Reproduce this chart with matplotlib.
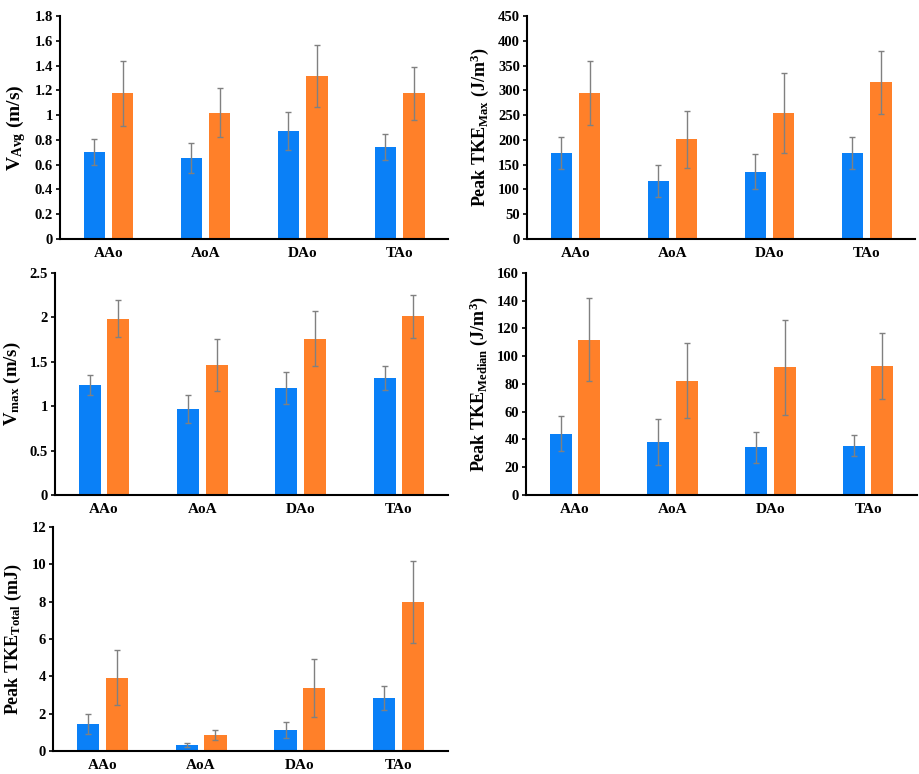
import matplotlib
matplotlib.use('Agg')
import matplotlib.pyplot as plt
import numpy as np

plt.rcParams['font.family'] = 'Liberation Serif'
plt.rcParams['font.weight'] = 'bold'
plt.rcParams['mathtext.fontset'] = 'custom'
plt.rcParams['mathtext.rm'] = 'Liberation Serif:bold'
plt.rcParams['mathtext.bf'] = 'Liberation Serif:bold'
plt.rcParams['mathtext.it'] = 'Liberation Serif:bold:italic'

categories = ['AAo', 'AoA', 'DAo', 'TAo']

# V_Avg (m/s)
vavg_blue = [0.70, 0.655, 0.87, 0.74]
vavg_blue_err = [0.105, 0.12, 0.155, 0.105]
vavg_orange = [1.175, 1.02, 1.315, 1.175]
vavg_orange_err = [0.26, 0.20, 0.25, 0.215]

# Peak TKE_Max (J/m3)
tkemax_blue = [173, 117, 136, 173]
tkemax_blue_err = [32, 31.5, 35, 32]
tkemax_orange = [295, 201, 254, 316]
tkemax_orange_err = [65, 57, 81, 64]

# V_max (m/s)
vmax_blue = [1.24, 0.965, 1.205, 1.32]
vmax_blue_err = [0.11, 0.16, 0.185, 0.135]
vmax_orange = [1.985, 1.465, 1.76, 2.01]
vmax_orange_err = [0.21, 0.29, 0.31, 0.245]

# Peak TKE_Median (J/m3)
tkemed_blue = [44, 38.3, 34.4, 35.6]
tkemed_blue_err = [12.6, 16.6, 11, 7.7]
tkemed_orange = [111.9, 82.3, 91.9, 92.9]
tkemed_orange_err = [30, 27, 34.3, 23.7]

# Peak TKE_Total (mJ)
tketot_blue = [1.45, 0.32, 1.14, 2.84]
tketot_blue_err = [0.52, 0.12, 0.44, 0.66]
tketot_orange = [3.93, 0.86, 3.375, 7.96]
tketot_orange_err = [1.47, 0.27, 1.55, 2.2]

BLUE = '#0a80f7'
ORANGE = '#ff8029'
ERR = '#808080'


def draw_panel(ax, blue, blue_err, orange, orange_err, ymax, ystep, ylabel, fmt, lsize):
    x = np.arange(len(categories))
    w = 0.225
    off = 0.145
    ekw = dict(ecolor=ERR, elinewidth=1.0, capsize=2.5, capthick=1.0)
    ax.bar(x - off, blue, w, color=BLUE, yerr=blue_err, error_kw=ekw, zorder=2)
    ax.bar(x + off, orange, w, color=ORANGE, yerr=orange_err, error_kw=ekw, zorder=2)
    ax.set_xlim(-0.5, len(categories) - 0.5)
    ax.set_ylim(0, ymax)
    ticks = np.arange(0, ymax + ystep / 2, ystep)
    ax.set_yticks(ticks)
    ax.set_yticklabels([fmt(t) for t in ticks])
    ax.set_xticks(x)
    ax.set_xticklabels(categories)
    ax.tick_params(axis='x', length=0, pad=6, labelsize=11)
    ax.tick_params(axis='y', length=3, width=1.2, pad=2, labelsize=10.5)
    for s in ['top', 'right']:
        ax.spines[s].set_visible(False)
    for s in ['left', 'bottom']:
        ax.spines[s].set_linewidth(1.5)
    ax.set_ylabel(ylabel, fontsize=lsize, fontweight='bold', labelpad=5)


def fmt_dec(t):
    s = f'{t:.1f}'
    return s[:-2] if s.endswith('.0') else s


def fmt_int(t):
    return f'{int(round(t))}'


fig = plt.figure(figsize=(9.2, 7.74), dpi=100)

ax1 = fig.add_axes([0.0652, 0.6912, 0.4218, 0.2881])
draw_panel(ax1, vavg_blue, vavg_blue_err, vavg_orange, vavg_orange_err,
           1.8, 0.2, r'V$_{\mathrm{Avg}}$ (m/s)', fmt_dec, 14)

ax2 = fig.add_axes([0.5728, 0.6912, 0.4218, 0.2881])
draw_panel(ax2, tkemax_blue, tkemax_blue_err, tkemax_orange, tkemax_orange_err,
           450, 50, r'Peak TKE$_{\mathrm{Max}}$ (J/m$^{3}$)', fmt_int, 13)

ax3 = fig.add_axes([0.0598, 0.3605, 0.4272, 0.2868])
draw_panel(ax3, vmax_blue, vmax_blue_err, vmax_orange, vmax_orange_err,
           2.5, 0.5, r'V$_{\mathrm{max}}$ (m/s)', fmt_dec, 13.5)

ax4 = fig.add_axes([0.5717, 0.3605, 0.4250, 0.2868])
draw_panel(ax4, tkemed_blue, tkemed_blue_err, tkemed_orange, tkemed_orange_err,
           160, 20, r'Peak TKE$_{\mathrm{Median}}$ (J/m$^{3}$)', fmt_int, 13)

ax5 = fig.add_axes([0.0576, 0.0297, 0.4294, 0.2894])
draw_panel(ax5, tketot_blue, tketot_blue_err, tketot_orange, tketot_orange_err,
           12, 2, r'Peak TKE$_{\mathrm{Total}}$ (mJ)', fmt_int, 13)

fig.savefig('out.png', dpi=100)
